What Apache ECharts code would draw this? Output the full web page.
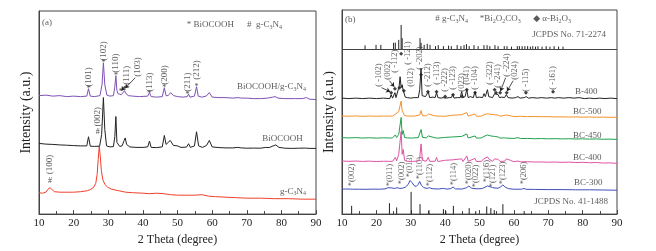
<!DOCTYPE html>
<html>
<head>
<meta charset="utf-8">
<script src="https://cdn.jsdelivr.net/npm/echarts@6/dist/echarts.min.js"></script>
<style>
  html, body { margin: 0; padding: 0; background: #fff; }
  #chart { width: 656px; height: 251px; }
</style>
</head>
<body>
<div id="chart"></div>
<script>
const SERIF = "'Liberation Serif', 'DejaVu Serif', serif";
const xTicks = [10, 20, 30, 40, 50, 60, 70, 80, 90];

// panel (a) patterns, intensity in a.u. (stacked)
const compositeA = [[10,119],[12,119.5],[14,118.5],[16,119],[18,118],[20,118.5],[22,118],[23.8,118.5],[24.3,126],[24.8,118.5],[26,118],[27.6,119],[28.2,130],[28.6,152],[29.0,130],[29.6,119.5],[30.5,118.5],[31.5,119],[31.9,128],[32.2,139],[32.5,124],[32.8,121],[33.0,123],[33.3,119.5],[33.8,120],[34.3,122],[34.7,124],[35.1,121],[35.8,119],[37,118.5],[39,118],[41.4,118.5],[41.9,122],[42.4,118],[44,117.5],[45.6,118],[46.2,127],[46.7,119],[47.3,119],[48.0,122],[48.4,122.5],[48.9,119],[50,118],[51.5,117.5],[52.8,118],[53.2,120.5],[53.6,117.5],[54.9,118.5],[55.5,128],[56.0,118.5],[57,117.5],[58.3,118.5],[59.2,122],[60.0,117.5],[62,117],[64,117],[66,116.5],[67.5,117],[68,118],[68.5,116.5],[70,116.5],[72,116],[74,116],[76,116.5],[77.5,117.5],[78.2,118],[79,116.5],[81,116],[84,116],[86,116],[87.3,117],[88,115.5],[90,115]];
const biocoohA = [[10,71],[12,70.3],[14,70],[16,69.5],[18,69.2],[20,68.8],[22,68.5],[23.8,68.5],[24.3,77.7],[24.8,68.2],[26,68],[27.5,68.2],[28.1,80],[28.6,117],[29.0,85],[29.5,68.5],[30.5,67.5],[31.5,67.8],[31.9,78],[32.2,98],[32.5,72],[32.8,70],[33.0,74],[33.3,68],[34,68.5],[34.6,74],[34.9,76.5],[35.3,70],[36.2,67.5],[38,67],[40,67],[41.4,67.5],[41.9,73.3],[42.4,67],[44,66.8],[45.6,67.5],[46.2,79],[46.7,70],[47.2,69.5],[47.9,74],[48.3,76],[48.8,69],[50,68.5],[51,67],[52.6,67.3],[53.2,70.7],[53.7,67],[54.9,68.5],[55.5,82.7],[56.1,68.5],[57.2,67],[58.4,69],[59.2,74],[60,67.5],[62,66.8],[64,66.5],[66,66.5],[67.4,67],[67.9,68.5],[68.4,66.5],[70,66.2],[72,66.3],[74,66.2],[75.5,67],[76.5,66.8],[77.6,68.5],[78.4,69.5],[79.3,67],[81,66.2],[83,66],[85,66.2],[87,66.3],[87.5,67.5],[88,66],[90,66]];
const gcnA = [[10,21.5],[11,21],[12,22],[12.6,25],[13.2,26.5],[13.8,24.5],[14.5,22.5],[16,22],[18,22],[20,22],[22,22.5],[23,23],[24,23.5],[25,25],[25.8,27],[26.4,31],[26.8,40],[27.1,55],[27.4,68],[27.7,58],[28.0,44],[28.4,35],[29,30],[29.8,27],[31,25],[33,23.5],[35,22],[37,21.5],[40,21],[42,20.5],[44,21],[46,20.5],[48,19.5],[50,19],[53,19],[55,19],[57,19.5],[59,18],[61,17.5],[64,17],[67,16.5],[70,16],[74,16],[78,15.5],[82,15.5],[86,15],[90,15]];

// panel (b) patterns
const b400 = [[10,116.5],[12,116],[14,116.5],[16,116],[18,116.5],[20,116],[22,116.5],[23.9,116],[24.3,120],[24.7,116.5],[25.1,117],[25.4,122],[25.7,117],[26.2,118],[26.6,128],[26.9,138],[27.2,127],[27.5,130],[27.8,124],[28.1,125],[28.4,117.5],[29,117],[30,116.5],[31,117],[32.2,117],[32.6,125],[33.0,146.5],[33.3,119],[33.8,117.5],[34.3,118],[34.7,119],[35.1,123],[35.5,117],[36.5,117.5],[37.1,117],[37.5,122],[37.9,117],[38.8,116.5],[39.4,117],[39.8,119],[40.2,116.5],[41.2,117],[41.8,117],[42.2,120],[42.6,116.5],[43.5,117],[44.4,117],[44.8,123],[45.2,117],[45.8,118],[46.3,125],[46.7,117],[47.3,118],[48.2,117],[48.7,123],[49.1,117],[50,117.5],[50.9,117],[51.3,121],[51.7,118],[52.3,125],[52.7,118],[53.2,119],[53.8,117],[54.4,121],[54.8,119],[55.4,120],[55.8,117],[56.5,117.5],[57.3,117],[57.8,120],[58.3,117],[59.5,116.5],[60.5,117],[61.2,118],[61.8,116.5],[63,117],[63.6,118],[64.2,116.5],[65.5,117],[66.8,116.5],[68,117],[69.5,116.5],[70.9,117],[71.4,119],[71.9,116.5],[73,117],[74.5,116.5],[76,117],[77.5,116.5],[79,117],[80.5,116],[82,116.5],[83.5,116],[85,116.5],[86.5,116],[88,116.5],[90,116]];
const bc500 = [[10,98.5],[12,98.3],[14,98.6],[16,98.2],[18,98.5],[20,98.3],[22,98.5],[24,98.4],[24.3,99.5],[24.7,98.5],[25.4,100],[25.8,98.8],[26.5,103],[26.9,105],[27.2,113.5],[27.5,104],[27.8,106],[28.2,99],[29,98.5],[31,98.4],[32.6,99.5],[33.0,104],[33.4,98.8],[34.5,98.6],[35.1,100.5],[35.5,98.5],[37.1,98.6],[37.5,100],[37.9,98.4],[40,98.3],[42.2,99.3],[42.6,98.2],[44.8,99.8],[45.2,98.3],[46.3,102],[46.7,98.4],[48.7,100.5],[49.1,98.3],[50.5,98.4],[51.3,99.8],[52.3,100.8],[52.8,99.5],[53.3,100.2],[53.8,98.5],[54.4,99.8],[55.4,99.5],[56,98.3],[57.8,99.5],[58.3,98.2],[60,98],[62,98.2],[64,97.9],[66,98],[68,97.8],[70,97.9],[72,97.6],[74,97.7],[76,97.5],[78,97.6],[80,97.4],[82,97.5],[84,97.3],[86,97.4],[88,97.2],[90,97.3]];
const bc450 = [[10,76.8],[12,76.5],[14,76.8],[16,76.4],[18,76.7],[20,76.3],[22,76.6],[23.8,76.4],[24.3,77.5],[24.7,76.5],[25.1,77],[25.5,79.5],[25.9,77],[26.5,80],[26.9,79],[27.2,97],[27.5,80],[27.8,84],[28.2,77],[29,76.5],[30.5,76.4],[32.2,76.8],[32.6,78],[33.0,85],[33.4,77],[34.5,76.6],[35.1,78.5],[35.5,76.5],[37.1,76.6],[37.5,78],[37.9,76.3],[39.8,77],[40.2,76.2],[42.2,77.5],[42.6,76.2],[44.8,78],[45.2,76.3],[46.3,80.5],[46.7,76.4],[48.7,78.5],[49.1,76.3],[50.5,76.5],[51.3,78],[51.8,77],[52.3,79.5],[52.8,77.5],[53.3,78.5],[53.8,76.5],[54.4,78],[54.9,77],[55.4,77.5],[56,76.3],[57.3,76.6],[57.8,78],[58.3,76.2],[60,76],[61.2,76.8],[62,75.9],[64,76],[66,75.7],[68,75.9],[70,75.6],[72,75.8],[74,75.5],[76,75.7],[78,75.4],[80,75.6],[82,75.3],[84,75.5],[86,75.2],[88,75.3],[90,75]];
const bc400 = [[10,53.3],[12,53],[14,53.3],[16,52.9],[18,53.2],[20,52.8],[22,53.1],[23.8,53],[24.3,54.5],[24.7,53],[25.1,53.5],[25.5,57],[25.9,53.5],[26.5,60],[26.9,59],[27.2,83],[27.5,60],[27.8,65],[28.2,54],[29,53],[30.5,52.9],[32.2,53.3],[32.6,56],[33.0,70.5],[33.4,54],[34.5,53.1],[35.1,57],[35.5,53],[37.1,53.1],[37.5,57],[37.9,52.8],[39.8,54],[40.2,52.7],[42.2,54.5],[42.6,52.7],[44.8,55.5],[45.2,52.8],[46.3,58.5],[46.7,53],[48.7,56],[49.1,52.8],[50.5,53],[51.3,55.5],[51.8,54.5],[52.3,57.5],[52.8,55],[53.3,56.5],[53.8,53],[54.4,55.5],[54.9,54],[55.4,55],[56,52.8],[57.3,53.2],[57.8,55.5],[58.3,53.5],[59,54],[60,52.6],[61.2,53.3],[62,52.5],[64,52.6],[66,52.3],[68,52.4],[70,52.1],[72,52.3],[74,52],[76,52.2],[78,51.8],[80,52],[82,51.6],[84,51.8],[86,51.3],[88,51.4],[90,51]];
const bc300 = [[10,25],[11,25.2],[12.4,25.1],[12.9,26],[13.4,25],[15,25],[17,24.9],[19,25.1],[21,25],[22.5,25.3],[23.4,26.5],[23.9,28.5],[24.5,26.3],[25.3,25.7],[26,26.5],[26.8,25.8],[27.6,26],[28.4,27],[29.2,29.5],[29.8,33.8],[30.4,31.5],[31,28.5],[31.6,27.8],[32.2,30],[32.6,32.8],[33.1,29],[33.8,26.5],[34.8,25.8],[35.4,26.6],[36.2,25.5],[38,25.2],[39.5,25.8],[40.5,25.1],[41.6,25.6],[42.3,27.2],[43,25.3],[45,25.2],[46.3,26.6],[46.9,28.3],[47.6,26.2],[48.4,25.6],[48.9,26.3],[49.6,25.4],[50.8,25.7],[51.6,27],[52.3,28.3],[53.1,27.5],[53.8,26.6],[54.5,26.2],[55.4,26],[56.2,27.5],[56.8,29.3],[57.5,27],[58.5,25.5],[60,25],[62.2,25],[62.9,25.8],[63.6,24.9],[66,24.8],[70,24.6],[74,24.6],[78,24.4],[82,24.4],[86,24.2],[90,24]];

// reference stick patterns [2theta, height]
const divider = 165.7;
const jcpds71 = [[16.7,3.8],[19.9,4.3],[21.3,4.3],[25.0,6.3],[25.5,6.6],[26.5,9.3],[27.2,24.3],[27.5,11],[32.7,11],[33.0,6.3],[33.9,4.3],[34.8,5.3],[35.6,4.3],[37.2,3],[38.0,4],[39.5,3],[41.0,3.5],[41.8,3],[43.5,4],[44.6,3],[45.5,4],[46.2,5],[47.0,3],[48.4,4],[49.6,3],[51.3,4],[52.2,4],[53.0,3],[54.5,4],[55.4,3],[57.2,3],[58.0,3],[59.3,2.5],[61.0,3],[61.6,3],[62.4,3],[63.2,3],[64.0,3],[64.8,2.5],[65.5,3],[66.3,2.5],[67.0,3],[68.2,2.5],[69.4,3],[70.5,2.5],[71.7,3],[73.0,2.5],[74.3,2.5]];
const jcpds41 = [[12.8,8.3],[23.8,11],[25.9,6.7],[30.1,22.3],[32.7,10],[35.3,4],[39.5,5],[40.2,3],[42.4,8.3],[47.0,6],[48.9,3],[52.1,7.7],[53.3,6],[54.3,4],[56.8,10],[63.0,3]];

// peak annotations [x, y, text]
const peakLabA = [[24.35,128,'(101)'],[28.6,154,'(102)'],[32.24,142,'(110)'],[35.2,130,'(111)'],[38.4,138,'(103)'],[41.86,123,'(113)'],[46.2,130,'(200)'],[52.9,123,'(211)'],[55.5,135,'(212)'],[27.0,88,'(002)'],[13.2,40,'(100)']];
const peakMarkA = [[24.35,126,'*'],[28.6,152,'*'],[32.24,139,'*'],[33.6,123,'*'],[34.6,125,'*'],[41.86,121,'*'],[46.2,127,'*'],[52.9,120,'*'],[55.5,128,'*'],[27.0,83,'#'],[13.2,33,'#']];
const arrowsA = [[35.0,129,33.8,124],[37.8,137,34.9,126.5]];
const peakLabB = [[20.8,128,'( -102)'],[23.4,135,'(002)'],[25.4,142,'( -112)'],[29.2,150,'( -121)'],[30.0,128,'(012)'],[32.7,145,'( -202)'],[35.0,128,'( -212)'],[37.5,130,'( -113)'],[40.0,123,'( -222)'],[42.3,125,'( -123)'],[44.9,123,'(023)'],[46.3,130,'(041)'],[48.7,125,'( -104)'],[53.0,130,'( -322)'],[55.4,127,'( -241)'],[58.0,138,'( -224)'],[60.2,135,'(024)'],[63.5,123,'( -115)'],[71.4,125,'( -161)']];
const peakMarkB = [[24.3,122],[25.4,126],[26.7,127],[27.2,161],[28.0,124],[33.0,140],[35.0,123],[37.5,123],[40.0,118],[42.3,120],[44.9,118],[46.3,125],[48.7,122],[54.4,125],[54.8,122],[56.0,122],[57.9,122],[63.5,122],[71.4,123]];
const arrowsB = [[21.5,127,24.0,123],[23.8,134,25.2,128],[57.6,137,56.1,123.5],[59.8,134,58.0,123.5]];
const peakLabC = [[12.8,28,'*(002)'],[24.0,28,'*(011)'],[27.4,30,'*(002)'],[29.8,37,'*(013)'],[32.7,35,'*(110)'],[35.4,28,'*(112)'],[42.4,29,'*(114)'],[47.0,30,'*(020)'],[48.9,27,'*(022)'],[52.1,32,'*(116)'],[54.0,27,'*(121)'],[56.7,30,'*(123)'],[63.0,30,'*(206)']];

// free texts [x, y, text, align]
const textsA = [[10.9,192,'(a)','left'],[52.7,190,'* BiOCOOH','left'],[70.1,190,'#  g-C{s|3}N{s|4}','left'],[87.1,128,'BiOCOOH/g-C{s|3}N{s|4}','right'],[86.2,76,'BiOCOOH','right'],[87.1,23,'g-C{s|3}N{s|4}','right']];
const textsB = [[10.9,195,'(b)','left'],[37.1,196,'# g-C{s|3}N{s|4}','left'],[50.1,196,'*Bi{s|2}O{s|2}CO{s|3}','left'],[65.6,196,'◆ α-Bi{s|2}O{s|3}','left'],[86.8,180,'JCPDS No. 71-2274','right'],[77.8,123,'B-400','left'],[77.2,103,'BC-500','left'],[77.2,79.3,'BC-450','left'],[77.2,56.7,'BC-400','left'],[77.5,32,'BC-300','left'],[87.4,13,'JCPDS No. 41-1488','right']];

const chart = echarts.init(document.getElementById('chart'));

const rich = { s: { fontSize: 6, fontFamily: SERIF, color: '#333', padding: [5, 0, 0, 0] } };

function xAxisOf(idx) {
  return {
    type: 'value', gridIndex: idx, min: 10, max: 90, interval: 10,
    name: '2 Theta (degree)', nameLocation: 'middle', nameGap: 17,
    nameTextStyle: { fontFamily: SERIF, fontSize: 12, color: '#222' },
    axisLine: { lineStyle: { color: '#444' } },
    axisTick: { inside: true, length: 4, lineStyle: { color: '#444' } },
    minorTick: { show: true, splitNumber: 2, length: 3, lineStyle: { color: '#444' } },
    splitLine: { show: false },
    axisLabel: { fontFamily: SERIF, fontSize: 11, color: '#222', margin: 4,
      formatter: v => xTicks.includes(v) ? String(v) : '' }
  };
}
function yAxisOf(idx, max) {
  return {
    type: 'value', gridIndex: idx, min: 0, max: max,
    name: 'Intensity (a.u.)', nameLocation: 'middle', nameGap: 6,
    nameTextStyle: { fontFamily: SERIF, fontSize: 14, color: '#222' },
    axisLine: { show: true, lineStyle: { color: '#444' } },
    axisTick: { show: false }, axisLabel: { show: false }, splitLine: { show: false }
  };
}
function curve(idx, data, color, extra) {
  return Object.assign({
    type: 'line', xAxisIndex: idx, yAxisIndex: idx, data: data,
    showSymbol: false, symbol: 'none', silent: true, animation: false,
    lineStyle: { color: color, width: 1 }
  }, extra || {});
}
function sticks(idx, data, base) {
  return {
    type: 'custom', xAxisIndex: idx, yAxisIndex: idx, data: data, silent: true, animation: false,
    renderItem: (params, api) => {
      const p0 = api.coord([api.value(0), base]);
      const p1 = api.coord([api.value(0), base + api.value(1)]);
      return { type: 'line', shape: { x1: p0[0], y1: p0[1], x2: p1[0], y2: p1[1] },
        style: { stroke: '#222', lineWidth: 1 } };
    }
  };
}
function rotLabels(idx, data, size) {
  return {
    type: 'scatter', xAxisIndex: idx, yAxisIndex: idx, data: data, symbolSize: 0,
    silent: true, animation: false,
    label: { show: true, position: 'inside', rotate: 90, align: 'left', verticalAlign: 'middle',
      fontFamily: SERIF, fontSize: size, color: '#333', formatter: p => p.data[2] }
  };
}
function texts(idx, data) {
  return {
    type: 'scatter', xAxisIndex: idx, yAxisIndex: idx, symbolSize: 0, silent: true, animation: false,
    data: data.map(d => ({ value: [d[0], d[1]], name: d[2],
      label: { align: d[3] } })),
    label: { show: true, position: 'inside', verticalAlign: 'middle',
      fontFamily: SERIF, fontSize: 9, color: '#333', formatter: p => p.name, rich: rich }
  };
}
function arrows(idx, data) {
  return {
    type: 'lines', coordinateSystem: 'cartesian2d', xAxisIndex: idx, yAxisIndex: idx,
    silent: true, animation: false, symbol: ['none', 'arrow'], symbolSize: 4,
    lineStyle: { color: '#222', width: 0.8, opacity: 1 },
    data: data.map(a => ({ coords: [[a[0], a[1]], [a[2], a[3]]] }))
  };
}

chart.setOption({
  backgroundColor: '#fff',
  animation: false,
  grid: [
    { left: 39, top: 11, width: 277, height: 204, show: true, borderColor: '#444', borderWidth: 1 },
    { left: 342, top: 10, width: 275, height: 205, show: true, borderColor: '#444', borderWidth: 1 }
  ],
  xAxis: [xAxisOf(0), xAxisOf(1)],
  yAxis: [yAxisOf(0, 204), yAxisOf(1, 205)],
  series: [
    curve(0, gcnA, '#f0402a'),
    curve(0, biocoohA, '#222222'),
    curve(0, compositeA, '#7e52b3'),
    rotLabels(0, peakLabA, 9),
    {
      type: 'scatter', xAxisIndex: 0, yAxisIndex: 0, data: peakMarkA, symbolSize: 0, silent: true,
      label: { show: true, position: 'inside', fontFamily: SERIF, fontSize: 8, color: '#222',
        formatter: p => p.data[2] }
    },
    arrows(0, arrowsA),
    texts(0, textsA),

    sticks(1, jcpds71, divider),
    sticks(1, jcpds41, 0),
    curve(1, bc300, '#3f4fb8'),
    curve(1, bc400, '#e052a6'),
    curve(1, bc450, '#1fa24c'),
    curve(1, bc500, '#f5922a'),
    curve(1, b400, '#222222', {
      markLine: { silent: true, symbol: 'none', label: { show: false }, animation: false,
        lineStyle: { color: '#444', type: 'solid', width: 1 }, data: [{ yAxis: divider }] }
    }),
    rotLabels(1, peakLabB, 8.5),
    rotLabels(1, peakLabC, 8.5),
    {
      type: 'scatter', xAxisIndex: 1, yAxisIndex: 1, data: peakMarkB, symbol: 'diamond',
      symbolSize: 4, silent: true, itemStyle: { color: '#111' }
    },
    arrows(1, arrowsB),
    texts(1, textsB)
  ]
});
</script>
</body>
</html>
